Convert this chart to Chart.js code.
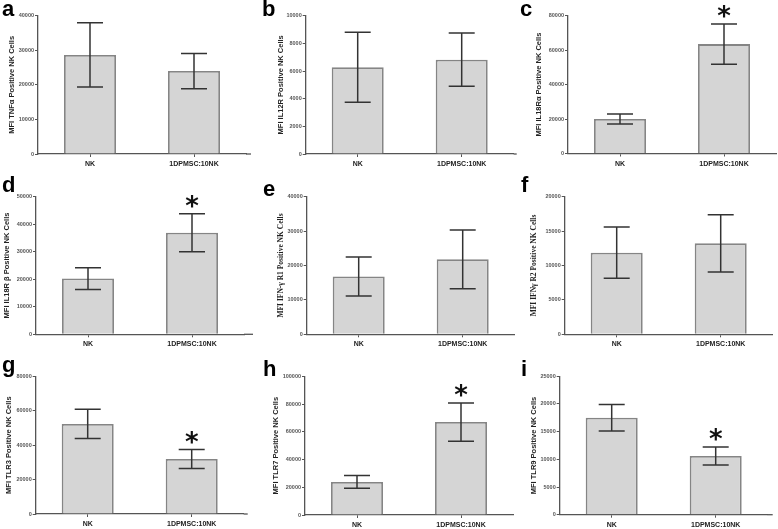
<!DOCTYPE html>
<html>
<head>
<meta charset="utf-8">
<script src="https://cdn.jsdelivr.net/npm/chart.js@4/dist/chart.umd.min.js"></script>
<style>
  body { margin: 0; background: #fff; width: 778px; height: 529px; position: relative; overflow: hidden; }
  canvas { position: absolute; }
  .lbl { position: absolute; font: bold 22px "Liberation Sans", Arial, sans-serif; line-height: 22px; color: #000; }
</style>
</head>
<body>
<script>
// groups on the x axis
const categories = ["NK", "1DPMSC:10NK"];

// mean MFI and error (SD) per panel
const tnfMean = [28650, 24000];     const tnfErr = [9300, 5100];     const tnfSig = [false, false];
const il12Mean = [6270, 6820];      const il12Err = [2530, 1930];    const il12Sig = [false, false];
const il18aMean = [20000, 63500];   const il18aErr = [2900, 11700];  const il18aSig = [false, true];
const il18bMean = [20250, 36900];   const il18bErr = [3950, 6900];   const il18bSig = [false, true];
const ifnr1Mean = [16800, 21800];   const ifnr1Err = [5650, 8550];   const ifnr1Sig = [false, false];
const ifnr2Mean = [11860, 13220];   const ifnr2Err = [3730, 4160];   const ifnr2Sig = [false, false];
const tlr3Mean = [52300, 32000];    const tlr3Err = [8500, 5500];    const tlr3Sig = [false, true];
const tlr7Mean = [23800, 67000];    const tlr7Err = [4600, 13800];   const tlr7Sig = [false, true];
const tlr9Mean = [17500, 10600];    const tlr9Err = [2400, 1630];    const tlr9Sig = [false, true];

// y tick values per panel
const tnfTicks = [0, 10000, 20000, 30000, 40000];
const il12Ticks = [0, 2000, 4000, 6000, 8000, 10000];
const il18aTicks = [0, 20000, 40000, 60000, 80000];
const il18bTicks = [0, 10000, 20000, 30000, 40000, 50000];
const ifnr1Ticks = [0, 10000, 20000, 30000, 40000];
const ifnr2Ticks = [0, 5000, 10000, 15000, 20000];
const tlr3Ticks = [0, 20000, 40000, 60000, 80000];
const tlr7Ticks = [0, 20000, 40000, 60000, 80000, 100000];
const tlr9Ticks = [0, 5000, 10000, 15000, 20000, 25000];

const sans = "'Liberation Sans', Arial, sans-serif";
const serif = "'Liberation Serif', 'Times New Roman', serif";

// layout: canvas origin, plot box (local px), title centre, letter position
const panels = [
  { letter: "a", mean: tnfMean, err: tnfErr, sig: tnfSig, ticks: tnfTicks, title: "MFI TNFα Positive NK Cells", font: sans,
    x0: 0, y0: 0, h: 176, axisX: 38, top: 15.7, bottom: 154, ext: 5, titleX: 12, lx: 2, lBase: 16.7 },
  { letter: "b", mean: il12Mean, err: il12Err, sig: il12Sig, ticks: il12Ticks, title: "MFI IL12R Positive NK Cells", font: sans,
    x0: 260, y0: 0, h: 176, axisX: 45.7, top: 15.7, bottom: 154, ext: 3, titleX: 20.5, lx: 262, lBase: 16.7 },
  { letter: "c", mean: il18aMean, err: il18aErr, sig: il18aSig, ticks: il18aTicks, title: "MFI IL18Rα Positive NK Cells", font: sans,
    x0: 518, y0: 0, h: 176, axisX: 50, top: 15.7, bottom: 153.5, ext: 0, titleX: 21, lx: 520, lBase: 16.7 },
  { letter: "d", mean: il18bMean, err: il18bErr, sig: il18bSig, ticks: il18bTicks, title: "MFI IL18R β Positive NK Cells", font: sans,
    x0: 0, y0: 176, h: 176, axisX: 36, top: 20.7, bottom: 158.3, ext: 9, titleX: 6.5, lx: 2, lBase: 192.7 },
  { letter: "e", mean: ifnr1Mean, err: ifnr1Err, sig: ifnr1Sig, ticks: ifnr1Ticks, title: "MFI IFN-γ R1 Positive NK Cells", font: serif,
    x0: 260, y0: 176, h: 176, axisX: 46.7, top: 20.7, bottom: 158.3, ext: 0, titleX: 21.5, lx: 263, lBase: 196.7 },
  { letter: "f", mean: ifnr2Mean, err: ifnr2Err, sig: ifnr2Sig, ticks: ifnr2Ticks, title: "MFI IFNγ R2 Positive NK Cells", font: serif,
    x0: 518, y0: 176, h: 176, axisX: 46.7, top: 20.7, bottom: 158.3, ext: 0, titleX: 16, lx: 521, lBase: 193 },
  { letter: "g", mean: tlr3Mean, err: tlr3Err, sig: tlr3Sig, ticks: tlr3Ticks, title: "MFI TLR3 Positive NK Cells", font: sans,
    x0: 0, y0: 352, h: 177, axisX: 35.7, top: 24.3, bottom: 162, ext: 4, titleX: 8.5, lx: 2, lBase: 373 },
  { letter: "h", mean: tlr7Mean, err: tlr7Err, sig: tlr7Sig, ticks: tlr7Ticks, title: "MFI TLR7 Positive NK Cells", font: sans,
    x0: 260, y0: 352, h: 177, axisX: 45, top: 24.3, bottom: 163, ext: 0, titleX: 16, lx: 263, lBase: 377 },
  { letter: "i", mean: tlr9Mean, err: tlr9Err, sig: tlr9Sig, ticks: tlr9Ticks, title: "MFI TLR9 Positive NK Cells", font: sans,
    x0: 518, y0: 352, h: 177, axisX: 41.7, top: 24.3, bottom: 162.7, ext: 5, titleX: 16, lx: 521, lBase: 377 },
];

const PLOT_W = 208;
const CANVAS_W = 260;
const X_AXIS_H = 20;

// draws SD whiskers, significance asterisks and the x-axis overhang
const errorBars = {
  id: "errorBars",
  afterDatasetsDraw(chart, args, opts) {
    const ctx = chart.ctx;
    const yScale = chart.scales.y;
    const ds = chart.data.datasets[0];
    const bars = chart.getDatasetMeta(0).data;
    ctx.save();
    ctx.strokeStyle = "#333";
    ctx.lineWidth = 1.5;
    bars.forEach((bar, i) => {
      const m = ds.data[i], e = ds.errors[i];
      const top = yScale.getPixelForValue(m + e);
      const bot = yScale.getPixelForValue(m - e);
      const half = bar.width / 4;
      ctx.beginPath();
      ctx.moveTo(bar.x, top); ctx.lineTo(bar.x, bot);
      ctx.moveTo(bar.x - half, top); ctx.lineTo(bar.x + half, top);
      ctx.moveTo(bar.x - half, bot); ctx.lineTo(bar.x + half, bot);
      ctx.stroke();
      if (ds.sig[i]) {
        ctx.font = "bold 26px 'DejaVu Sans', sans-serif";
        ctx.fillStyle = "#111";
        ctx.textAlign = "center";
        ctx.textBaseline = "alphabetic";
        const mt = ctx.measureText("*");
        const cy = top - 12;
        const base = cy - (mt.actualBoundingBoxDescent - mt.actualBoundingBoxAscent) / 2;
        ctx.fillText("*", bar.x, base);
      }
    });
    if (opts.ext) {
      const { right, bottom } = chart.chartArea;
      ctx.strokeStyle = "#555";
      ctx.lineWidth = 1.3;
      ctx.beginPath();
      ctx.moveTo(right, bottom);
      ctx.lineTo(right + opts.ext, bottom);
      ctx.stroke();
    }
    ctx.restore();
  },
};

panels.forEach((p) => {
  const cv = document.createElement("canvas");
  cv.width = CANVAS_W;
  cv.height = p.h;
  cv.style.left = p.x0 + "px";
  cv.style.top = p.y0 + "px";
  document.body.appendChild(cv);

  const lbl = document.createElement("div");
  lbl.className = "lbl";
  lbl.textContent = p.letter;
  lbl.style.left = p.lx + "px";
  lbl.style.top = (p.lBase - 18.6) + "px";
  document.body.appendChild(lbl);

  const yMax = p.ticks[p.ticks.length - 1];
  const step = p.ticks[1] - p.ticks[0];

  new Chart(cv, {
    type: "bar",
    data: {
      labels: categories,
      datasets: [{
        data: p.mean,
        errors: p.err,
        sig: p.sig,
        backgroundColor: "#d5d5d5",
        borderColor: "#858585",
        borderWidth: 1.8,
        barPercentage: 0.5,
        categoryPercentage: 1,
      }],
    },
    options: {
      responsive: false,
      devicePixelRatio: 1,
      animation: false,
      layout: {
        padding: {
          left: 0,
          top: p.top,
          right: CANVAS_W - p.axisX - PLOT_W,
          bottom: p.h - p.bottom - X_AXIS_H,
        },
      },
      plugins: {
        legend: { display: false },
        tooltip: { enabled: false },
        errorBars: { ext: p.ext },
      },
      scales: {
        x: {
          ticks: { font: { family: sans, size: 7, weight: "bold" }, color: "#222", padding: 3, maxRotation: 0 },
          grid: { offset: false, drawOnChartArea: false, tickLength: 3, tickColor: "#555" },
          border: { color: "#555", width: 1.3 },
          afterFit: (s) => { s.height = X_AXIS_H; },
        },
        y: {
          min: 0,
          max: yMax,
          ticks: {
            stepSize: step,
            font: { family: sans, size: 5.5, weight: "bold" },
            color: "#555",
            padding: 1,
            callback: (v) => String(v),
          },
          grid: { drawOnChartArea: false, tickLength: 3, tickColor: "#555" },
          border: { color: "#555", width: 1.3 },
          title: {
            display: true,
            text: p.title,
            color: "#222",
            font: { family: p.font, size: 7.5, weight: "bold" },
            padding: { top: p.titleX - 4.5, bottom: 0 },
          },
          afterFit: (s) => { s.width = p.axisX; },
        },
      },
    },
    plugins: [errorBars],
  });
});
</script>
</body>
</html>
